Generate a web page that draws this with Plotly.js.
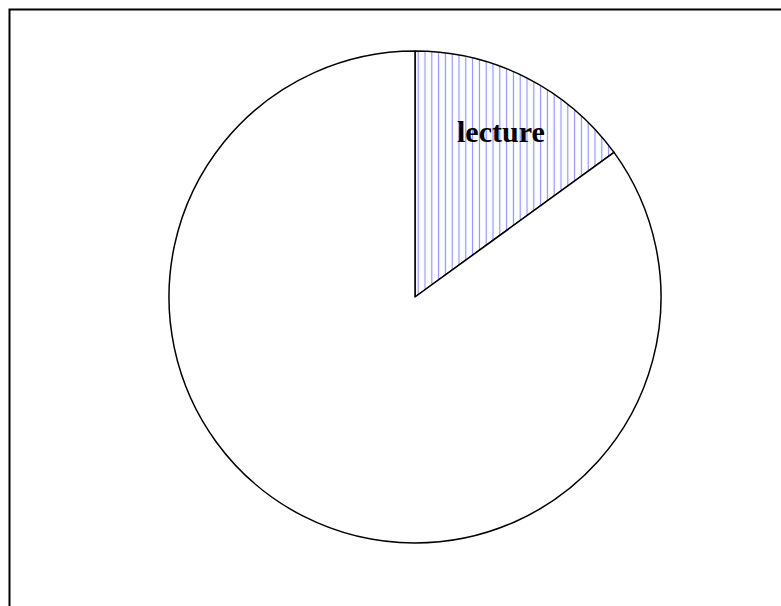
<!DOCTYPE html>
<html>
<head>
<meta charset="utf-8">
<script src="https://cdn.plot.ly/plotly-3.0.1.min.js"></script>
<style>html,body{margin:0;padding:0;background:#fff;}#chart{width:781px;height:606px;}</style>
</head>
<body>
<div id="chart"></div>
<script>
const categories = ['lecture', 'other'];
const values = [15, 85];
const shownLabels = ['lecture', ''];

const W = 781, H = 606;
const cx = 415, cy = 297, r = 246;

const trace = {
  type: 'pie',
  labels: categories,
  values: values,
  sort: false,
  direction: 'clockwise',
  rotation: 0,
  textinfo: 'none',
  hoverinfo: 'label+percent',
  showlegend: false,
  domain: {x: [(cx - r) / W, (cx + r) / W], y: [(H - cy - r) / H, (H - cy + r) / H]},
  marker: {
    colors: ['#ffffff', '#ffffff'],
    line: {color: '#000000', width: 1.5},
    pattern: {
      shape: ['|', ''],
      fgcolor: ['#8f8fff', '#ffffff'],
      bgcolor: ['#ffffff', '#ffffff'],
      fgopacity: 1,
      size: 6.8,
      solidity: 0.17,
      fillmode: 'replace'
    }
  }
};

const layout = {
  width: W, height: H,
  margin: {l: 0, r: 0, t: 0, b: 0},
  paper_bgcolor: '#ffffff',
  plot_bgcolor: '#ffffff',
  showlegend: false,
  shapes: [{
    type: 'rect', xref: 'paper', yref: 'paper',
    x0: 9.5 / W, x1: 1.05, y0: -0.05, y1: 1 - 9.5 / H,
    line: {color: '#000000', width: 2}, fillcolor: 'rgba(0,0,0,0)'
  }],
  annotations: [{
    text: '<b>' + shownLabels[0] + '</b>',
    xref: 'paper', yref: 'paper',
    x: 501 / W, y: 1 - 132 / H,
    xanchor: 'center', yanchor: 'middle',
    showarrow: false,
    font: {family: 'Liberation Serif, Times New Roman, serif', size: 30, color: '#000000'}
  }]
};

Plotly.newPlot('chart', [trace], layout, {staticPlot: true, displayModeBar: false});
</script>
</body>
</html>
